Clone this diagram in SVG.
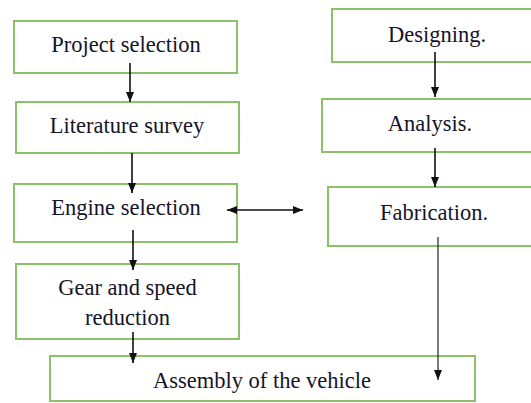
<svg xmlns="http://www.w3.org/2000/svg" width="531" height="403" viewBox="0 0 531 403">
<style>
.box{fill:#fff;stroke:#8cc06a;stroke-width:2}
.c{stroke:#111;stroke-width:1.6;fill:none}
</style>
<defs>
<marker id="ah" markerWidth="10" markerHeight="10" refX="10" refY="5" orient="auto-start-reverse" markerUnits="userSpaceOnUse">
<path d="M0,1 L10,5 L0,9 Z" fill="#111"/>
</marker>
</defs>
<rect width="531" height="403" fill="#fff"/>
<g font-family="Liberation Serif, Times New Roman, serif" font-size="22.5" fill="#141428" text-anchor="middle">
<g id="project"><rect class="box" x="14" y="21" width="223" height="52"/><text x="126" y="52">Project selection</text></g>
<g id="literature"><rect class="box" x="16" y="102" width="223" height="51"/><text x="127" y="133">Literature survey</text></g>
<g id="engine"><rect class="box" x="14" y="184" width="223" height="58"/><text x="126" y="215">Engine selection</text></g>
<g id="gear"><rect class="box" x="16" y="264" width="223" height="75"/><text x="127.5" y="295">Gear and speed</text><text x="127.5" y="325">reduction</text></g>
<g id="assembly"><rect class="box" x="50" y="356" width="425" height="45"/><text x="262" y="388">Assembly of the vehicle</text></g>
<g id="designing"><rect class="box" x="332" y="9" width="210" height="53"/><text x="437" y="42">Designing.</text></g>
<g id="analysis"><rect class="box" x="322" y="99" width="220" height="53"/><text x="430" y="131">Analysis.</text></g>
<g id="fabrication"><rect class="box" x="328" y="187" width="214" height="59"/><text x="434" y="220">Fabrication.</text></g>
</g>
<g id="connectors">
<path class="c" d="M130,63 L130,102" marker-end="url(#ah)"/>
<path class="c" d="M132,153 L132,193" marker-end="url(#ah)"/>
<path class="c" d="M133,230 L133,270" marker-end="url(#ah)"/>
<path class="c" d="M133,332 L133,363" marker-end="url(#ah)"/>
<path class="c" d="M435,52 L435,97" marker-end="url(#ah)"/>
<path class="c" d="M435,148 L435,187" marker-end="url(#ah)"/>
<path class="c" d="M438,237 L438,380" marker-end="url(#ah)" style="stroke:#333;stroke-width:1.3"/>
<path class="c" d="M227,210 L303,210" marker-start="url(#ah)" marker-end="url(#ah)"/>
</g>
</svg>
